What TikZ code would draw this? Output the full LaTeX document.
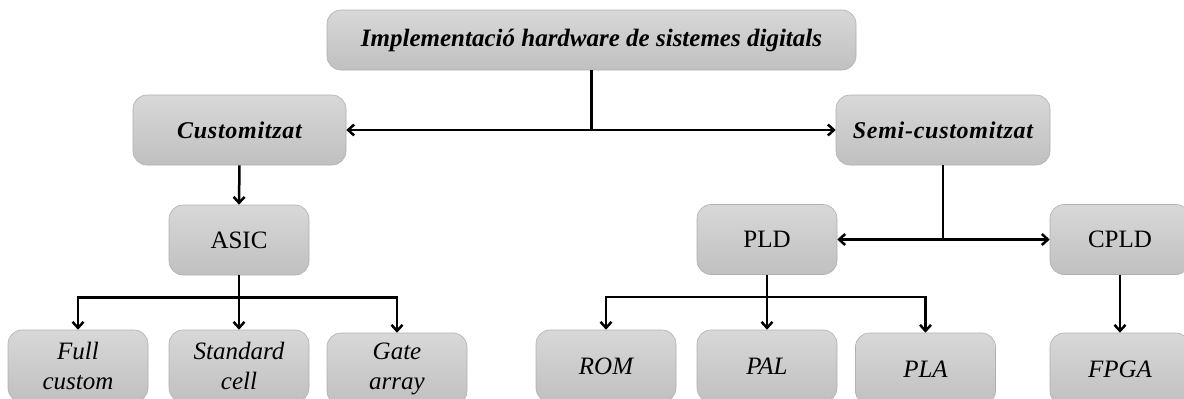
\documentclass[tikz,border=0pt]{standalone}
\usepackage{fontspec}
\setmainfont{Liberation Serif}
\usetikzlibrary{arrows.meta,calc}

\definecolor{boxtop}{RGB}{216,216,216}
\definecolor{boxbot}{RGB}{192,192,192}
\definecolor{boxedge}{RGB}{175,175,175}

\tikzset{
  box/.style={draw=boxedge, line width=0.6pt, rounded corners=14pt,
    top color=boxtop, bottom color=boxbot,
    minimum width=140pt, minimum height=70pt, inner sep=0pt,
    align=center, font=\fontsize{25}{30}\selectfont},
  headbox/.style={box, font=\fontsize{25}{30}\selectfont\bfseries\itshape},
  catbox/.style={box, font=\fontsize{24}{30}\selectfont\bfseries\itshape\addfontfeature{LetterSpace=3}},
  leafbox/.style={box, minimum height=72pt, font=\fontsize{25}{30}\selectfont\itshape},
  link/.style={line width=2.5pt, draw=black},
  arrow/.style={link, -{Straight Barb[length=6pt,width=11pt,line width=2.5pt]}}
}

\begin{document}
\begin{tikzpicture}[x=1pt,y=-1pt]
\useasboundingbox (0,0) rectangle (1184,399);
\clip (0,0) rectangle (1184,399);

% tree nodes
\node[headbox, minimum width=529pt, minimum height=60pt] (top) at (591.5,40) {Implementació hardware de sistemes digitals};
\node[catbox, minimum width=213pt] (cust) at (239.5,130) {Customitzat};
\node[catbox, minimum width=214pt] (semi) at (943,130) {Semi-customitzat};

\node[box] (asic) at (239,240) {ASIC};
\node[box] (pld)  at (767,239.5) {PLD};
\node[box] (cpld) at (1120,239.5) {CPLD};

\node[leafbox] (full) at (78,366)  {Full\\custom};
\node[leafbox] (std)  at (239,366) {Standard\\cell};
\node[leafbox] (gate) at (397,369) {Gate\\array};
\node[leafbox] (rom)  at (606,366) {ROM};
\node[leafbox] (pal)  at (767,366) {PAL};
\node[leafbox] (pla)  at (925.5,369) {PLA};
\node[leafbox] (fpga) at (1120,369) {FPGA};

% junction points
\coordinate (j1) at (top.south |- cust.east);
\coordinate (j2) at (semi.south |- pld.east);
\coordinate (j3) at ($(asic.south)+(0,22)$);
\coordinate (j4) at ($(pld.south)+(0,22)$);

% top level split
\draw[link] (top.south) -- (j1);
\draw[arrow] (j1) -- (cust.east);
\draw[arrow] (j1) -- (semi.west);

% custom branch
\draw[arrow] (cust.south) -- (asic.north);
\draw[arrow] (asic.south) -- (std.north);
\draw[arrow] (j3) -| (full.north);
\draw[arrow] (j3) -| (gate.north);

% semi-custom branch
\draw[link] (semi.south) -- (j2);
\draw[arrow] (j2) -- (pld.east);
\draw[arrow] (j2) -- (cpld.west);
\draw[arrow] (pld.south) -- (pal.north);
\draw[arrow] (j4) -| (rom.north);
\draw[arrow] (j4) -| (pla.north);
\draw[arrow] (cpld.south) -- (fpga.north);
\end{tikzpicture}
\end{document}
